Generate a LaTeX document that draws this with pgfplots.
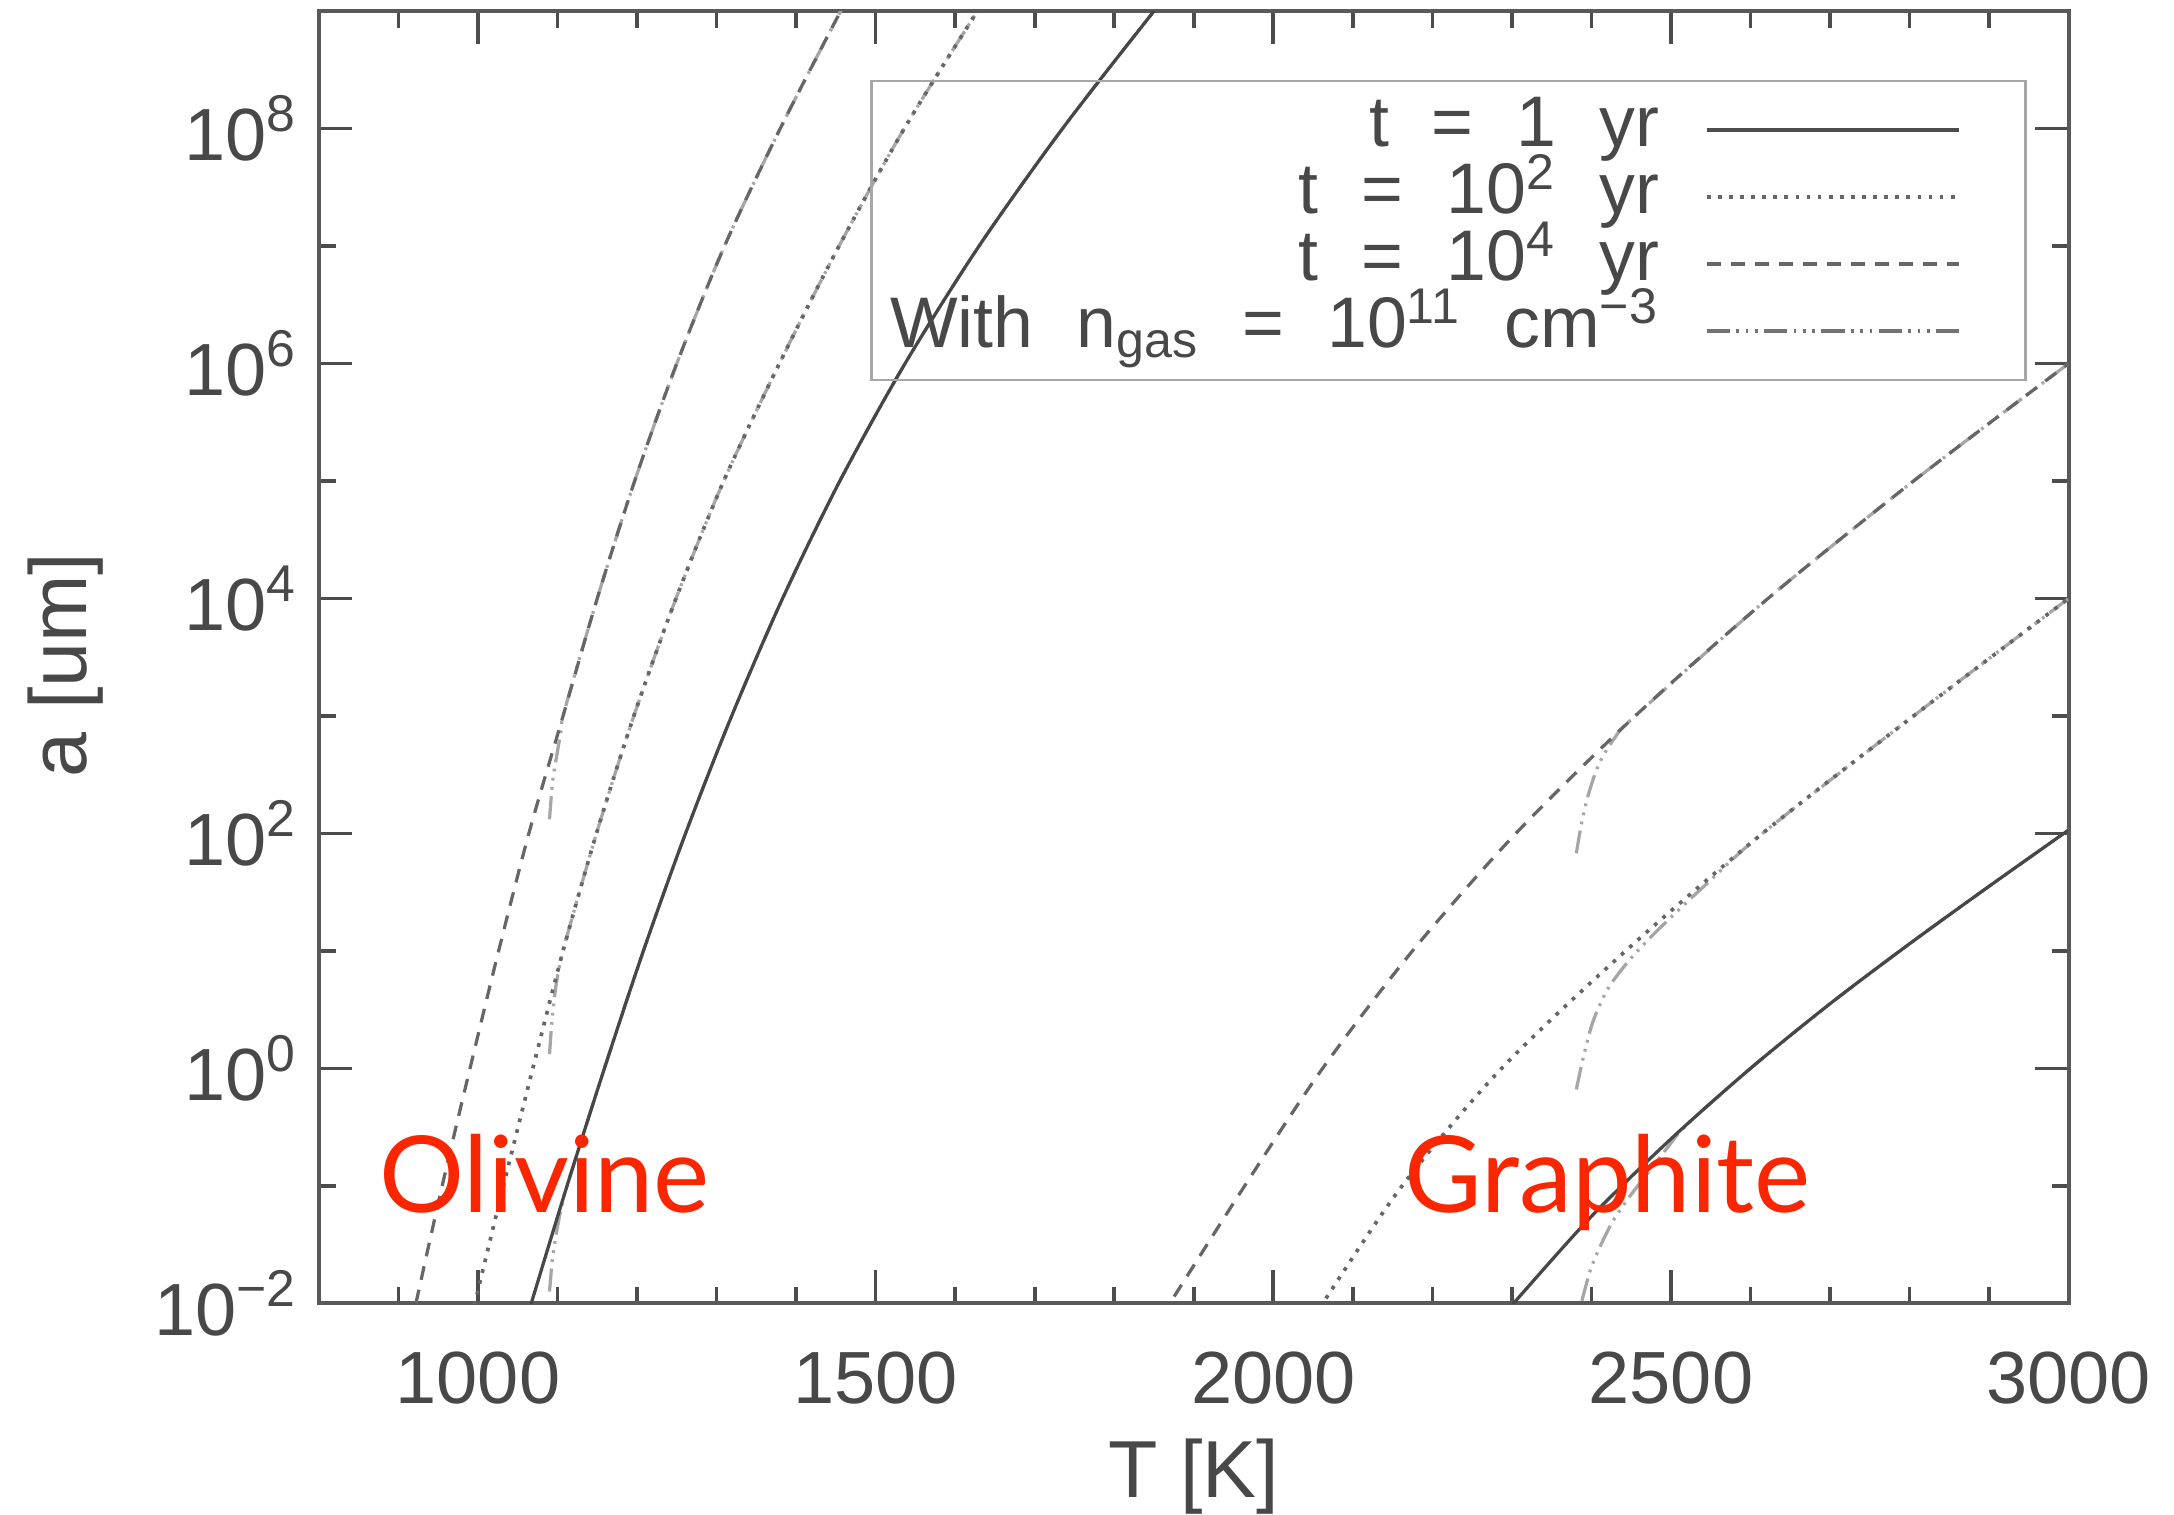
\documentclass[border=0pt]{standalone}
\usepackage{fontspec}
\setmainfont{Liberation Sans}
\newfontfamily\latofont{Lato}
\usepackage{pgfplots}
\pgfplotsset{compat=1.18}
\definecolor{lab}{RGB}{250,38,0}
\definecolor{ink}{RGB}{72,72,72}
\newcommand{\sep}{\hspace{0.6em}}
\begin{document}
\begin{tikzpicture}
\useasboundingbox (-69pt,-45.6pt) rectangle (401.4pt,282pt);
\begin{axis}[
  at={(0,0)}, anchor=south west,
  scale only axis, width=378.6pt, height=279.6pt,
  xmin=800, xmax=3000, ymode=log, ymin=1e-2, ymax=1e9,
  xtick={1000,1500,2000,2500,3000},
  xticklabels={1000,1500,2000,2500,3000},
  minor xtick={900,1100,1200,1300,1400,1600,1700,1800,1900,2100,2200,2300,2400,2600,2700,2800,2900},
  ytick={1e-2,1,1e2,1e4,1e6,1e8},
  yticklabels={10\textsuperscript{−2},10\textsuperscript{0},10\textsuperscript{2},10\textsuperscript{4},10\textsuperscript{6},10\textsuperscript{8}},
  minor ytick={1e-1,1e1,1e3,1e5,1e7},
  xtick pos=both, ytick pos=both,
  tick align=inside,
  major tick length=7.2pt, minor tick length=3.6pt,
  every tick/.style={black!70, line width=0.8pt},
  axis line style={black!65, line width=0.9pt},
  tick label style={text=ink, font=\fontsize{16}{19}\selectfont},
  xticklabel style={yshift=-7pt},
  yticklabel style={xshift=-1pt},
  xlabel={T [K]}, ylabel={a [um]},
  every axis x label/.style={at={(axis description cs:0.5,-0.134)}, anchor=center, text=ink, font=\fontsize{17.5}{20}\selectfont},
  every axis y label/.style={at={(axis description cs:-0.145,0.494)}, rotate=90, anchor=center, text=ink, font=\fontsize{17.5}{20}\selectfont},
  legend style={at={(0.976,0.947)}, anchor=north east, draw=black!35, line width=0.6pt,
    fill=none, font=\fontsize{15.5}{17}\selectfont, text=ink,
    inner xsep=3pt, inner ysep=3.35pt, row sep=0pt,
    nodes={text height=9.9pt, text depth=2.6pt, inner sep=1pt}},
  legend cell align=right,
  legend plot pos=right,
  legend image code/.code={\path (0pt,0pt); \draw[line width=0.9pt,#1] (9pt,0pt) -- (63.6pt,0pt); \path (74.6pt,0pt);},
]
\addlegendimage{black!70, solid}
\addlegendentry{t\sep=\sep1\sep yr}
\addlegendimage{black!60, dash pattern=on 0.8pt off 1.6pt}
\addlegendentry{t\sep=\sep10\textsuperscript{2}\sep yr}
\addlegendimage{black!60, dash pattern=on 3pt off 2.2pt}
\addlegendentry{t\sep=\sep10\textsuperscript{4}\sep yr}
\addlegendimage{black!55, dash pattern=on 5pt off 1.4pt on 0.6pt off 1.4pt on 0.6pt off 1.4pt on 0.6pt off 1.4pt}
\addlegendentry{With\sep n\textsubscript{gas}\sep=\sep10\textsuperscript{11}\sep cm\textsuperscript{−3}}

% ---- n_gas = 1e11 curves (dash-dot-dot-dot), olivine
\addplot[forget plot, smooth, black!35, line width=0.7pt, dash pattern=on 5pt off 1.4pt on 0.6pt off 1.4pt on 0.6pt off 1.4pt on 0.6pt off 1.4pt] coordinates {
(1090,1.26e-2) (1094,2.51e-2) (1100,4.47e-2) (1106,7.08e-2) (1112,1e-1) (1159,1) (1208,1e1) (1261,1e2) (1319,1e3) (1383,1e4) (1455,1e5) (1537,1e6) (1630,1e7) (1735,1e8) (1850,1e9) (1875,1.58e9)};
\addplot[forget plot, smooth, black!35, line width=0.7pt, dash pattern=on 5pt off 1.4pt on 0.6pt off 1.4pt on 0.6pt off 1.4pt on 0.6pt off 1.4pt] coordinates {
(1090,1.32) (1093,2.51) (1098,5.01) (1104,8.32) (1110,12.0) (1149,1e2) (1196,1e3) (1249,1e4) (1309,1e5) (1379,1e6) (1454,1e7) (1536,1e8) (1628,1e9) (1648,1.58e9)};
\addplot[forget plot, smooth, black!35, line width=0.7pt, dash pattern=on 5pt off 1.4pt on 0.6pt off 1.4pt on 0.6pt off 1.4pt on 0.6pt off 1.4pt] coordinates {
(1090,132) (1094,282) (1100,501) (1105,794) (1109,1122) (1150,1e4) (1197,1e5) (1250,1e6) (1310,1e7) (1380,1e8) (1456,1e9) (1472,1.58e9)};
% graphite
\addplot[forget plot, smooth, black!35, line width=0.7pt, dash pattern=on 5pt off 1.4pt on 0.6pt off 1.4pt on 0.6pt off 1.4pt on 0.6pt off 1.4pt] coordinates {
(2388,1.05e-2) (2393,1.41e-2) (2400,2.04e-2) (2412,3.16e-2) (2427,5.01e-2) (2447,7.94e-2) (2470,0.126) (2495,0.209) (2520,0.331) (2600,1) (2700,3.55) (2800,11.5) (2900,35.5) (3000,107)};
\addplot[forget plot, smooth, black!35, line width=0.7pt, dash pattern=on 5pt off 1.4pt on 0.6pt off 1.4pt on 0.6pt off 1.4pt on 0.6pt off 1.4pt] coordinates {
(2381,0.661) (2390,1.26) (2402,2.51) (2420,4.68) (2445,7.94) (2475,13.2) (2510,22.4) (2540,34.7) (2615,100) (2805,1000) (3000,1e4)};
\addplot[forget plot, smooth, black!35, line width=0.7pt, dash pattern=on 5pt off 1.4pt on 0.6pt off 1.4pt on 0.6pt off 1.4pt on 0.6pt off 1.4pt] coordinates {
(2381,67.6) (2388,126) (2397,224) (2410,398) (2430,661) (2455,1000) (2622,1e4) (2805,1e5) (3000,1e6)};

% ---- olivine
\addplot[forget plot, smooth, black!72, line width=0.7pt] coordinates {
(1058,6.31e-3) (1067,1e-2) (1112,1e-1) (1159,1) (1208,1e1) (1261,1e2) (1319,1e3) (1383,1e4) (1455,1e5) (1537,1e6) (1630,1e7) (1735,1e8) (1850,1e9) (1875,1.58e9)};
\addplot[forget plot, smooth, black!60, line width=0.8pt, dash pattern=on 0.8pt off 1.6pt] coordinates {
(989,6.31e-3) (996,1e-2) (1032,1e-1) (1069,1) (1107,1e1) (1149,1e2) (1196,1e3) (1249,1e4) (1309,1e5) (1379,1e6) (1454,1e7) (1536,1e8) (1628,1e9) (1648,1.58e9)};
\addplot[forget plot, smooth, black!60, line width=0.7pt, dash pattern=on 3pt off 2.2pt] coordinates {
(916,6.31e-3) (922,1e-2) (955,1e-1) (990,1) (1026,1e1) (1064,1e2) (1107,1e3) (1150,1e4) (1197,1e5) (1250,1e6) (1310,1e7) (1380,1e8) (1456,1e9) (1472,1.58e9)};
% ---- graphite
\addplot[forget plot, smooth, black!72, line width=0.7pt] coordinates {
(2290,8.1e-3) (2302,1e-2) (2400,5.5e-2) (2500,0.251) (2600,1) (2700,3.55) (2800,11.5) (2900,35.5) (3000,107)};
\addplot[forget plot, smooth, black!60, line width=0.8pt, dash pattern=on 0.8pt off 1.6pt] coordinates {
(2052,7.94e-3) (2062,1e-2) (2162,1e-1) (2287,1) (2443,10) (2615,100) (2805,1000) (3000,1e4)};
\addplot[forget plot, smooth, black!60, line width=0.7pt, dash pattern=on 3pt off 2.2pt] coordinates {
(1862,7.94e-3) (1870,1e-2) (1964,1e-1) (2062,1) (2175,10) (2305,100) (2455,1000) (2622,1e4) (2805,1e5) (3000,1e6)};

\node[anchor=base west, inner sep=0pt, text=lab, font=\latofont\fontsize{23}{26}\selectfont] at (axis cs:875,5.9e-2) {Olivine};
\node[anchor=base west, inner sep=0pt, text=lab, font=\latofont\fontsize{23}{26}\selectfont] at (axis cs:2164,5.9e-2) {Graphite};
\end{axis}
\end{tikzpicture}
\end{document}
